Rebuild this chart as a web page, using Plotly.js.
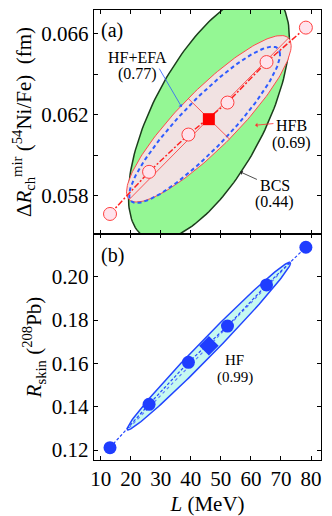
<!DOCTYPE html>
<html>
<head>
<meta charset="utf-8">
<script src="https://cdn.plot.ly/plotly-3.0.1.min.js"></script>
<style>
  html, body { margin: 0; padding: 0; background: #fff; }
  #graph { width: 332px; height: 516px; }
</style>
</head>
<body>
<div id="graph"></div>
<script>
// slope parameter L (MeV) of the family of interactions
const L = [13.1, 26.1, 39.2, 52.2, 65.2, 78.3];
const dRmir = [0.0571, 0.05918, 0.06102, 0.0626, 0.0646, 0.0663];
const Rskin = [0.1211, 0.1411, 0.1605, 0.1772, 0.1962, 0.2136];
const Lref = [46.0];
const dRmirRef = [0.06178];
const RskinRef = [0.1681];

// covariance ellipses: BCS, HFB, HF+EFA (panel a), HF (panel b)
const ellName = ["BCS", "HFB", "HF+EFA", "HF"];
const ellCx = [46.0, 46.0, 44.6, 46.0];
const ellCy = [0.0619, 0.0618, 0.0615, 0.168];
const ellSx = [26.8, 27.4, 25.1, 27.2];
const ellSy = [0.0061, 0.00411, 0.00386, 0.0387];
const ellRho = [0.64, 0.878, 0.9, 0.99];

const xTicks = [10, 20, 30, 40, 50, 60, 70, 80];
const yTicksA = [0.058, 0.06, 0.062, 0.064, 0.066];
const yTextA = ["0.058", "", "0.062", "", "0.066"];
const yTicksB = [0.12, 0.14, 0.16, 0.18, 0.2];
const yTextB = ["0.12", "0.14", "0.16", "0.18", "0.20"];

const X_RANGE = [7.77, 83.33];
const YA_RANGE = [0.05611, 0.06717];
const YB_RANGE = [0.1154, 0.2197];
const PLOT_W = 227;
const PANEL_H = 224;

function ellPoint(i, t) {
  const r = ellRho[i];
  return [
    ellCx[i] + ellSx[i] * Math.cos(t),
    ellCy[i] + ellSy[i] * (r * Math.cos(t) + Math.sqrt(1 - r * r) * Math.sin(t))
  ];
}

function ellipse(i) {
  let x = [], y = [];
  for (let k = 0; k <= 180; k++) {
    const p = ellPoint(i, (2 * Math.PI * k) / 180);
    x.push(p[0]);
    y.push(p[1]);
  }
  return { x: x, y: y };
}

// principal axes as seen on screen (depends on the axis scales)
function axesOf(i, yRange) {
  const kx = PLOT_W / (X_RANGE[1] - X_RANGE[0]);
  const ky = PANEL_H / (yRange[1] - yRange[0]);
  let tMax = 0, tMin = 0, dMax = -1, dMin = 1e9;
  for (let k = 0; k < 720; k++) {
    const t = (Math.PI * k) / 720;
    const p = ellPoint(i, t);
    const dx = (p[0] - ellCx[i]) * kx, dy = (p[1] - ellCy[i]) * ky;
    const d = dx * dx + dy * dy;
    if (d > dMax) { dMax = d; tMax = t; }
    if (d < dMin) { dMin = d; tMin = t; }
  }
  const seg = (t) => {
    const a = ellPoint(i, t), b = ellPoint(i, t + Math.PI);
    return { x: [a[0], b[0]], y: [a[1], b[1]] };
  };
  return { major: seg(tMax), minor: seg(tMin) };
}

function makePlot() {
  const eBCS = ellipse(0), eHFB = ellipse(1), eEFA = ellipse(2), eHF = ellipse(3);
  const axHFB = axesOf(1, YA_RANGE);
  const axHF = axesOf(3, YB_RANGE);

  const data = [
    { x: eBCS.x, y: eBCS.y, mode: "lines", fill: "toself", fillcolor: "#94f794",
      line: { color: "#1c3d1c", width: 1.5 }, hoverinfo: "skip" },
    { x: eHFB.x, y: eHFB.y, mode: "lines", fill: "toself", fillcolor: "#f1e2e2",
      line: { color: "#ff4a4a", width: 1 }, hoverinfo: "skip" },
    { x: eEFA.x, y: eEFA.y, mode: "lines",
      line: { color: "#2f5cff", width: 2, dash: "4px,3px" }, hoverinfo: "skip" },
    { x: axHFB.major.x, y: axHFB.major.y, mode: "lines", line: { color: "#ff3030", width: 0.8 } },
    { x: axHFB.minor.x, y: axHFB.minor.y, mode: "lines", line: { color: "#ff3030", width: 0.8 } },
    { x: L, y: dRmir, mode: "lines+markers",
      line: { color: "#ff2020", width: 1.5, dash: "6px,2px,2px,2px" },
      marker: { symbol: "circle", size: 13, color: "#ffe3ec", line: { color: "#ff4040", width: 1 } } },
    { x: Lref, y: dRmirRef, mode: "markers",
      marker: { symbol: "square", size: 12, color: "#ff0000" } },

    { x: eHF.x, y: eHF.y, xaxis: "x2", yaxis: "y2", mode: "lines", fill: "toself",
      fillcolor: "#c6f9f1", line: { color: "#2244ff", width: 1.5 }, hoverinfo: "skip" },
    { x: axHF.major.x, y: axHF.major.y, xaxis: "x2", yaxis: "y2", mode: "lines",
      line: { color: "#5a78ff", width: 1.2, dash: "dot" } },
    { x: L, y: Rskin, xaxis: "x2", yaxis: "y2", mode: "lines+markers",
      line: { color: "#2244ff", width: 1.2, dash: "3px,2px" },
      marker: { symbol: "circle", size: 13, color: "#1f3dff" } },
    { x: Lref, y: RskinRef, xaxis: "x2", yaxis: "y2", mode: "markers",
      marker: { symbol: "diamond", size: 15, color: "#1f3dff" } }
  ];

  const tickfont = { family: "Liberation Serif", size: 21, color: "black" };
  const frame = {
    showline: true, linecolor: "black", linewidth: 1.2, mirror: "ticks",
    ticks: "inside", ticklen: 4, tickcolor: "black", showgrid: false, zeroline: false,
    tickfont: tickfont
  };
  const note = { family: "Liberation Serif", size: 16, color: "black" };

  const text = (x, y, s, xr, yr, size) => ({
    x: x, y: y, xref: xr, yref: yr, text: s, showarrow: false, borderpad: 0,
    font: Object.assign({}, note, size ? { size: size } : {})
  });
  const arrow = (x, y, ax, ay, color) => ({
    x: x, y: y, ax: ax, ay: ay, xref: "x", yref: "y", axref: "x", ayref: "y",
    text: "", showarrow: true, arrowhead: 1, arrowsize: 1, arrowwidth: 0.8,
    arrowcolor: color, standoff: 0, startstandoff: 0
  });

  const layout = {
    width: 332,
    height: 516,
    margin: { l: 94, r: 11, t: 10, b: 56 },
    paper_bgcolor: "white",
    plot_bgcolor: "white",
    font: { family: "Liberation Serif", size: 20, color: "black" },
    showlegend: false,
    xaxis: Object.assign({}, frame, {
      domain: [0, 1], anchor: "y", range: X_RANGE, tickvals: xTicks, showticklabels: false
    }),
    yaxis: Object.assign({}, frame, {
      domain: [0.5022, 1], anchor: "x", range: YA_RANGE, tickvals: yTicksA, ticktext: yTextA,
      title: { text: "Δ<i>R</i><sub>ch</sub><sup>mir</sup> (<sup>54</sup>Ni/Fe)  (fm)",
        font: { size: 21 }, standoff: 4 }
    }),
    xaxis2: Object.assign({}, frame, {
      domain: [0, 1], anchor: "y2", range: X_RANGE, tickvals: xTicks,
      title: { text: "<i>L</i> (MeV)", font: { size: 21 }, standoff: 10 }
    }),
    yaxis2: Object.assign({}, frame, {
      domain: [0, 0.5022], anchor: "x2", range: YB_RANGE, tickvals: yTicksB, ticktext: yTextB,
      title: { text: "<i>R</i><sub>skin</sub> (<sup>208</sup>Pb)", font: { size: 21 }, standoff: 4 }
    }),
    annotations: [
      text(13.9, 0.06616, "(a)", "x", "y", 20),
      text(22.1, 0.06483, "HF+EFA", "x", "y"),
      text(22.1, 0.06401, "(0.77)", "x", "y"),
      text(73.6, 0.06145, "HFB", "x", "y"),
      text(73.6, 0.06062, "(0.69)", "x", "y"),
      text(68.0, 0.05852, "BCS", "x", "y"),
      text(68.0, 0.05770, "(0.44)", "x", "y"),
      arrow(36.96, 0.06238, 29.2, 0.06435, "#2f5cff"),
      arrow(61.4, 0.06148, 68.0, 0.06157, "#ff3030"),
      arrow(56.4, 0.05918, 62.5, 0.05877, "#222222"),
      text(13.9, 0.2098, "(b)", "x2", "y2", 20),
      text(54.7, 0.16154, "HF", "x2", "y2", 15),
      text(54.7, 0.15346, "(0.99)", "x2", "y2", 15)
    ]
  };

  Plotly.newPlot("graph", data, layout, { staticPlot: true });
}

window.addEventListener("load", makePlot);
</script>
</body>
</html>
